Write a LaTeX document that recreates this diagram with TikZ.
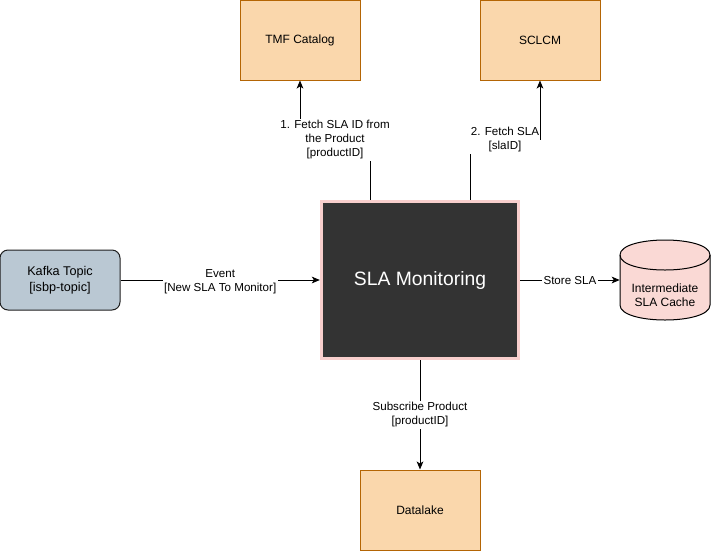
\documentclass[tikz,border=0pt]{standalone}
\usepackage{fontspec}
\setmainfont{Liberation Sans}
\usetikzlibrary{arrows.meta}
\definecolor{orfill}{HTML}{FAD7AC}
\definecolor{ordraw}{HTML}{B46504}
\definecolor{kfill}{HTML}{BAC8D3}
\definecolor{kdraw}{HTML}{1F1F1F}
\definecolor{slafill}{HTML}{333333}
\definecolor{sladraw}{HTML}{F8CECC}
\definecolor{cfill}{HTML}{FAD9D5}
\tikzset{
  obox/.style={draw=ordraw, fill=orfill, line width=0.75pt, minimum width=90pt, minimum height=60pt, inner sep=0pt, font=\fontsize{9}{11}\selectfont, align=center},
  kbox/.style={draw=kdraw, fill=kfill, line width=0.75pt, rounded corners=6pt, minimum width=90pt, minimum height=45pt, inner sep=0pt, font=\fontsize{9.5}{12}\selectfont, align=center},
  slabox/.style={draw=sladraw, fill=slafill, line width=2.25pt, minimum width=148pt, minimum height=118pt, inner sep=0pt, text=white, font=\fontsize{14.5}{17}\selectfont},
  arr/.style={draw=black, line width=0.75pt, -{Stealth[length=6pt,width=5pt,inset=1.5pt]}},
  elabel/.style={fill=white, inner sep=1pt, align=center, font=\fontsize{8.7}{10.5}\selectfont},
}
\begin{document}
\begin{tikzpicture}[x=0.75pt, y=-0.75pt]
\useasboundingbox (0,0) rectangle (711,551);
% nodes
\node[obox] (tmf) at (300,40) {TMF Catalog};
\node[obox] (sclcm) at (540,40) {SCLCM};
\node[obox] (datalake) at (420,510) {Datalake};
\node[kbox] (kafka) at (60,280) {Kafka Topic\\{}[isbp-topic]};
\node[slabox] (sla) at (420,280) {SLA Monitoring};
% cylinder
\filldraw[draw=black, fill=cfill, line width=0.75pt]
  (620,255) .. controls (620,235) and (710,235) .. (710,255) -- (710,305)
  .. controls (710,325) and (620,325) .. (620,305) -- cycle;
\draw[black, line width=0.75pt] (620,255) .. controls (620,275) and (710,275) .. (710,255);
\node[minimum width=67.5pt, minimum height=60pt, inner sep=0pt] (cache) at (665,280) {};
\node[align=center, font=\fontsize{9}{10.5}\selectfont] (cachetext) at (665,295) {Intermediate\\SLA Cache};
% edges
\draw[arr] (kafka.east) -- node[elabel, yshift=-1pt] {Event\\{}[New SLA To Monitor]} (sla.west);
\draw[arr] (sla.east) -- node[elabel] {Store SLA} (cache.west);
\draw[arr] ([xshift=-37.5pt]sla.north) -- ++(0,-60) -| node[elabel, pos=0.25] {1. Fetch SLA ID from\\the Product\\{}[productID]} (tmf.south);
\draw[arr] ([xshift=37.5pt]sla.north) -- ++(0,-60) -| node[elabel, pos=0.25] {2. Fetch SLA\\{}[slaID]} (sclcm.south);
\draw[arr] (sla.south) -- node[elabel] {Subscribe Product\\{}[productID]} (datalake.north);
\end{tikzpicture}
\end{document}
